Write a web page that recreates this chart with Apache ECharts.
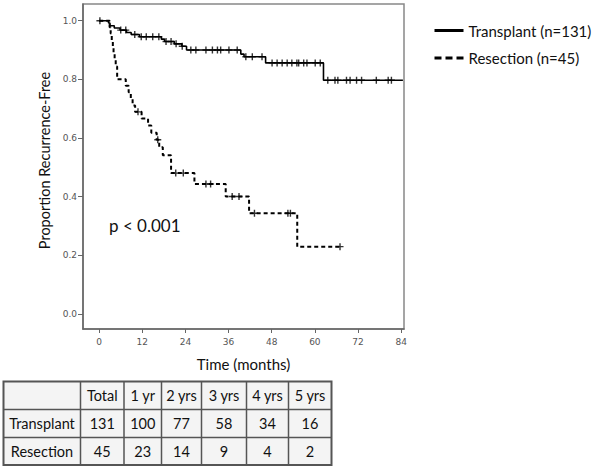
<!DOCTYPE html>
<html>
<head>
<meta charset="utf-8">
<script src="https://cdn.jsdelivr.net/npm/echarts@6/dist/echarts.min.js"></script>
<style>
html,body{margin:0;padding:0;background:#fff;}
#chart{width:600px;height:468px;}
</style>
</head>
<body>
<div id="chart"></div>
<script>
// ---- Data ----
const xTicks = [0, 12, 24, 36, 48, 60, 72, 84];
const yTicks = [0.0, 0.2, 0.4, 0.6, 0.8, 1.0];

const transplantName = 'Transplant (n=131)';
const transplantTimes = [0, 2.6, 3.0, 4.2, 5.8, 7.6, 8.9, 11.2, 17.3, 18.2, 20.9, 23.0, 24.3, 39.4, 40.3, 46.3, 62.4, 84.5];
const transplantSurv  = [1.0, 0.992, 0.983, 0.975, 0.968, 0.960, 0.953, 0.945, 0.937, 0.929, 0.921, 0.913, 0.900, 0.886, 0.877, 0.856, 0.797, 0.797];
const transplantCensor = [0.2, 6.0, 7.4, 9.9, 11.7, 13.1, 14.9, 16.6, 18.6, 20.0, 21.4, 23.1, 25.5, 26.9, 29.7, 31.5, 32.9, 33.8, 36.1, 38.4, 40.8, 42.6, 45.3, 48.1, 49.5, 50.9, 52.3, 53.6, 55.0, 55.5, 56.9, 57.8, 60.1, 61.5, 63.6, 65.6, 66.4, 68.8, 69.8, 71.6, 73.0, 77.1, 80.4, 81.3];

const resectionName = 'Resection (n=45)';
const resectionTimes = [0, 2.9, 3.2, 3.5, 3.8, 4.0, 4.3, 4.6, 5.0, 7.4, 8.2, 8.8, 9.3, 10.0, 11.8, 13.6, 14.5, 16.0, 16.7, 17.7, 20.0, 26.5, 35.2, 41.7, 55.1, 67.0];
const resectionSurv  = [1.0, 0.978, 0.956, 0.933, 0.911, 0.889, 0.867, 0.844, 0.800, 0.778, 0.756, 0.733, 0.711, 0.689, 0.666, 0.642, 0.618, 0.594, 0.568, 0.541, 0.480, 0.443, 0.400, 0.343, 0.229, 0.229];
const resectionCensor = [10.8, 16.3, 21.3, 23.4, 29.7, 31.0, 37.0, 38.9, 43.2, 52.5, 53.2, 67.0];

const pValueText = 'p < 0.001';

const tableHeader = ['', 'Total', '1 yr', '2 yrs', '3 yrs', '4 yrs', '5 yrs'];
const tableRowLabels = ['Transplant', 'Resection'];
const transplantAtRisk = [131, 100, 77, 58, 34, 16];
const resectionAtRisk = [45, 23, 14, 9, 4, 2];

// ---- Helpers ----
function curve(times, surv) { return times.map((t, i) => [t, surv[i]]); }
function stepValue(times, surv, t) {
  let v = surv[0];
  for (let i = 0; i < times.length; i++) { if (times[i] <= t) v = surv[i]; }
  return v;
}
function censorPts(censor, times, surv) { return censor.map(t => [t, stepValue(times, surv, t)]); }

const FONT = 'Lato';
const plusPath = 'path://M4,0h2v4h4v2h-4v4h-2v-4h-4v-2h4z';

// ---- Table graphic ----
const colX = [3.5, 80.5, 124, 161.5, 201.5, 246.5, 288.5, 331.5];
const rowY = [381.5, 409.5, 437.5, 465];
const graphics = [];
graphics.push({type:'rect', shape:{x:colX[0], y:rowY[0], width:colX[7]-colX[0], height:rowY[3]-rowY[0]},
  style:{fill:'#f4f4f4', stroke:'#555', lineWidth:2}});
for (let i = 1; i < colX.length - 1; i++) {
  graphics.push({type:'line', shape:{x1:colX[i], y1:rowY[0], x2:colX[i], y2:rowY[3]}, style:{stroke:'#555', lineWidth:1.5}});
}
for (let j = 1; j < rowY.length - 1; j++) {
  graphics.push({type:'line', shape:{x1:colX[0], y1:rowY[j], x2:colX[7], y2:rowY[j]}, style:{stroke:'#555', lineWidth:1.5}});
}
const tableRows = [tableHeader,
  [tableRowLabels[0]].concat(transplantAtRisk.map(String)),
  [tableRowLabels[1]].concat(resectionAtRisk.map(String))];
tableRows.forEach((row, r) => {
  row.forEach((txt, c) => {
    if (!txt) return;
    graphics.push({type:'text', x:(colX[c]+colX[c+1])/2, y:(rowY[r]+rowY[r+1])/2,
      style:{text:txt, fill:'#111', font:'14.5px ' + FONT, align:'center', verticalAlign:'middle'}});
  });
});
graphics.push({type:'text', x:109, y:225, style:{text:pValueText, fill:'#111', font:'17px ' + FONT, align:'left', verticalAlign:'middle'}});

const chart = echarts.init(document.getElementById('chart'), null, {renderer:'svg'});
chart.setOption({
  animation:false,
  backgroundColor:'#fff',
  grid:{left:83, top:4, width:321, height:325, show:true, borderColor:'#888', borderWidth:1.5, backgroundColor:'transparent'},
  legend:{
    orient:'vertical', left:428, top:18, itemWidth:29, itemHeight:14, itemGap:12.5,
    textStyle:{fontFamily:FONT, fontSize:15, color:'#111'},
    itemStyle:{opacity:0},
    data:[
      {name:transplantName, itemStyle:{opacity:0}, lineStyle:{width:3, type:'solid', color:'#000'}},
      {name:resectionName, itemStyle:{opacity:0}, lineStyle:{width:3, type:[7,4], color:'#000'}}
    ]
  },
  xAxis:{
    type:'value', min:-4.5, max:84.8,
    name:'Time (months)', nameLocation:'middle', nameGap:27,
    nameTextStyle:{fontFamily:FONT, fontSize:15, color:'#111'},
    axisLine:{show:true, onZero:false, lineStyle:{color:'#666', width:1.5}},
    axisTick:{show:true, length:4, customValues:xTicks, lineStyle:{color:'#666'}},
    axisLabel:{customValues:xTicks, fontFamily:'DejaVu Sans', fontSize:9, color:'#555', margin:8},
    splitLine:{show:false}
  },
  yAxis:{
    type:'value', min:-0.052, max:1.057,
    name:'Proportion Recurrence-Free', nameLocation:'middle', nameGap:28,
    nameTextStyle:{fontFamily:FONT, fontSize:14.5, color:'#111', padding:[0,0,0,12]},
    axisLine:{show:true, onZero:false, lineStyle:{color:'#666', width:1.5}},
    axisTick:{show:true, length:5, customValues:yTicks, lineStyle:{color:'#666'}},
    axisLabel:{customValues:yTicks, fontFamily:'DejaVu Sans', fontSize:9, color:'#555', margin:6,
      formatter:v => v.toFixed(1)},
    splitLine:{show:false}
  },
  graphic:graphics,
  series:[
    {name:transplantName, type:'line', step:'end', symbol:'none', data:curve(transplantTimes, transplantSurv),
     lineStyle:{color:'#000', width:1.6, type:'solid'}, itemStyle:{color:'#000'}},
    {name:resectionName, type:'line', step:'end', symbol:'none', data:curve(resectionTimes, resectionSurv),
     lineStyle:{color:'#000', width:2, type:[4,3]}, itemStyle:{color:'#000'}},
    {name:'Transplant censored', type:'scatter', symbol:plusPath, symbolSize:7,
     data:censorPts(transplantCensor, transplantTimes, transplantSurv), itemStyle:{color:'#000'}},
    {name:'Resection censored', type:'scatter', symbol:plusPath, symbolSize:7,
     data:censorPts(resectionCensor, resectionTimes, resectionSurv), itemStyle:{color:'#000'}}
  ]
});
</script>
</body>
</html>
